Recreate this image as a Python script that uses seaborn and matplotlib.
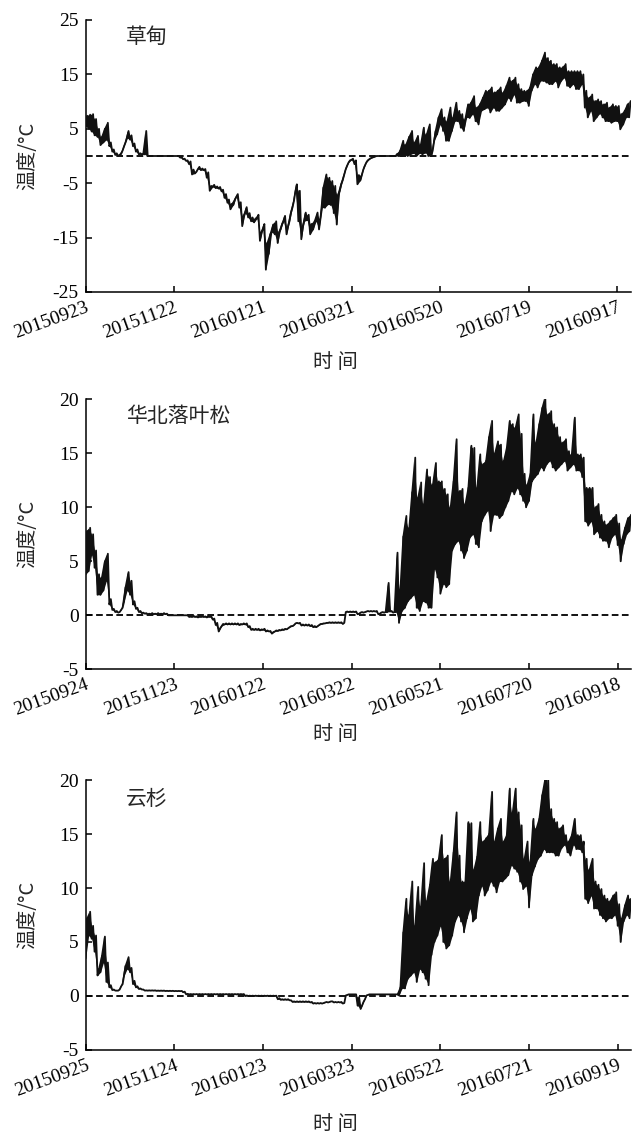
import numpy as np
import pandas as pd
import matplotlib
matplotlib.use('Agg')
import matplotlib.pyplot as plt
import seaborn as sns

# ---------------- data ----------------
panel_names = ['草甸', '华北落叶松', '云杉']
start_dates = ['2015-09-23', '2015-09-24', '2015-09-25']
n_days = 370

xtick_labels_meadow = ['20150923', '20151122', '20160121', '20160321', '20160520', '20160719', '20160917']
xtick_labels_larch = ['20150924', '20151123', '20160122', '20160322', '20160521', '20160720', '20160918']
xtick_labels_spruce = ['20150925', '20151124', '20160123', '20160323', '20160522', '20160721', '20160919']

yticks_meadow = [-25, -15, -5, 5, 15, 25]
yticks_forest = [-5, 0, 5, 10, 15, 20]

# two-day blocks: low reading (first day) and high reading (second day)
meadow_lo = [5.5, 5.0, 4.5, 3.8, 3.5, 2.0, 2.5, 3.0, 1.8, 0.8,
             0.2, 0.0, 0.4, 1.8, 3.3, 3.0, 1.8, 0.8, 0.3, 0.3,
             0.3, 0, 0, 0, 0, 0, 0, 0, 0, 0,
             0, 0, -0.3, -0.6, -0.9, -1.5, -3.4, -3.2, -2.4, -2.6,
             -2.6, -4.0, -6.4, -5.7, -5.9, -6.0, -6.5, -7.7, -8.6, -9.8,
             -9.0, -7.5, -9.5, -12.9, -10.5, -11.3, -12.0, -12.2, -11.5, -15.6,
             -13.5, -20.9, -18.0, -14.0, -14.4, -16.0, -13.5, -12.0, -14.4, -12.0,
             -9.5, -6.5, -12.0, -15.3, -12.0, -11.8, -14.4, -13.5, -12.0, -13.5,
             -9.5, -9.5, -8.9, -9.0, -10.5, -12.6, -6.5, -4.5, -2.5, -1.2,
             -0.7, -1.5, -5.2, -4.5, -2.5, -1.2, -0.6, -0.3, -0.1, 0,
             0, 0, 0, 0, 0, 0.0, 0.0, 0.0, 0.2, 0.0,
             0.3, 0.5, 0.0, 0.5, 0.3, 0.6, 0.0, 0.0, 2.8, 4.0,
             5.8, 4.6, 2.8, 2.8, 4.6, 6.4, 6.4, 5.2, 4.6, 7.1,
             7.0, 7.7, 6.4, 5.8, 8.3, 8.6, 8.9, 8.0, 8.9, 8.3,
             8.3, 8.9, 9.5, 10.7, 10.1, 11.3, 9.8, 9.8, 10.1, 10.1,
             9.2, 12.0, 13.2, 12.6, 13.8, 13.8, 13.5, 13.2, 13.2, 13.8,
             12.6, 13.8, 14.4, 12.9, 12.6, 13.2, 12.3, 12.3, 13.2, 8.9,
             7.1, 8.3, 6.4, 7.1, 7.8, 7.1, 6.4, 6.4, 6.1, 6.4,
             6.4, 4.9, 5.8, 7.1, 7.1]
meadow_hi = [7.4, 7.6, 7.7, 6.8, 5.0, 3.5, 5.0, 6.1, 2.5, 1.2,
             0.5, 0.2, 1.0, 2.5, 4.6, 3.8, 2.3, 1.2, 0.5, 0.4,
             4.6, 0, 0, 0, 0, 0, 0, 0, 0, 0,
             0, 0, -0.2, -0.5, -0.8, -1.0, -2.5, -2.9, -2.0, -2.3,
             -2.4, -3.0, -5.5, -5.3, -5.6, -5.7, -6.2, -7.0, -8.0, -8.8,
             -8.0, -7.0, -8.5, -11.0, -9.4, -10.5, -11.3, -11.5, -10.8, -14.0,
             -12.5, -16.0, -14.4, -12.6, -12.0, -14.0, -12.5, -11.0, -13.0, -10.4,
             -8.3, -5.2, -6.4, -13.0, -10.4, -10.8, -12.5, -12.0, -10.4, -11.5,
             -5.8, -3.4, -4.0, -4.6, -5.5, -7.1, -5.2, -3.5, -1.8, -0.8,
             -0.5, -0.8, -3.5, -3.5, -1.8, -0.8, -0.4, -0.2, 0.0, 0,
             0, 0, 0, 0, 0, 0.4, 1.0, 2.8, 2.1, 3.5,
             4.6, 2.5, 3.7, 2.1, 5.2, 4.0, 5.8, 1.0, 4.6, 7.1,
             8.6, 7.1, 6.4, 8.9, 7.1, 9.8, 8.3, 7.7, 6.7, 9.5,
             9.8, 11.0, 8.9, 9.5, 10.7, 12.0, 12.0, 12.6, 11.7, 12.0,
             12.6, 11.7, 12.9, 14.4, 13.8, 14.4, 13.2, 12.3, 12.0, 12.0,
             12.6, 15.0, 16.3, 16.3, 17.5, 19.0, 18.0, 17.5, 16.9, 16.9,
             16.3, 16.3, 16.9, 15.6, 15.6, 15.6, 15.6, 15.6, 15.0, 12.0,
             10.7, 11.3, 10.1, 10.4, 10.1, 9.5, 9.8, 8.9, 9.5, 9.2,
             9.2, 7.7, 8.3, 9.5, 10.1]

larch_lo = [3.8, 4.1, 5.6, 4.4, 1.9, 1.9, 2.3, 3.2, 1.0, 0.5,
            0.3, 0.25, 0.5, 1.3, 2.3, 1.9, 1.0, 0.6, 0.3, 0.2,
            0.15, 0.1, 0.1, 0.1, 0.1, 0.1, 0.1, 0.1, 0.0, 0.0,
            0, 0, 0, 0, 0, -0.15, -0.15, -0.15, -0.2, -0.15,
            -0.15, -0.2, -0.15, -0.4, -0.9, -1.5, -1.0, -0.85, -0.85, -0.85,
            -0.85, -0.85, -0.9, -0.85, -0.85, -1.1, -1.35, -1.35, -1.35, -1.4,
            -1.35, -1.5, -1.5, -1.7, -1.5, -1.45, -1.4, -1.35, -1.3, -1.1,
            -1.0, -0.75, -0.75, -0.95, -0.95, -0.95, -1.0, -1.1, -1.1, -0.9,
            -0.8, -0.75, -0.7, -0.7, -0.7, -0.7, -0.7, -0.8, 0.3, 0.3,
            0.3, 0.3, 0.1, 0.25, 0.25, 0.35, 0.35, 0.35, 0.35, 0.1,
            0.25, 0.25, 0.3, 0.35, 0.25, 0.3, -0.7, 0.4, 0.7, 1.3,
            1.6, 1.9, 0.7, 0.4, 1.3, 1.2, 0.7, 0.7, 4.3, 3.5,
            2.0, 2.9, 2.6, 2.9, 6.0, 6.6, 6.9, 6.0, 5.3, 6.0,
            7.2, 7.5, 6.6, 6.3, 8.7, 9.3, 9.7, 7.8, 9.3, 9.3,
            9.0, 9.3, 10.0, 10.6, 11.5, 11.2, 11.8, 11.2, 10.6, 10.0,
            10.6, 12.4, 12.8, 13.1, 13.7, 13.4, 14.0, 14.3, 13.7, 13.4,
            13.7, 14.0, 14.3, 13.4, 13.7, 14.0, 13.4, 13.4, 12.8, 8.7,
            8.3, 8.7, 7.5, 7.8, 7.2, 6.9, 6.9, 6.3, 7.2, 7.5,
            6.5, 5.0, 6.6, 7.5, 7.8]
larch_hi = [7.8, 8.1, 7.5, 6.0, 3.8, 3.5, 5.0, 5.7, 1.5, 0.6,
            0.4, 0.3, 0.7, 2.6, 4.0, 3.2, 1.3, 0.7, 0.4, 0.25,
            0.2, 0.15, 0.2, 0.15, 0.2, 0.15, 0.2, 0.15, 0.0, 0.0,
            0, 0, 0, 0, 0, -0.1, -0.05, -0.1, -0.05, -0.1,
            -0.1, -0.05, -0.1, -0.3, -0.7, -1.2, -0.8, -0.75, -0.75, -0.75,
            -0.75, -0.75, -0.8, -0.75, -0.75, -1.0, -1.25, -1.25, -1.25, -1.3,
            -1.25, -1.4, -1.45, -1.55, -1.4, -1.35, -1.3, -1.25, -1.2, -1.0,
            -0.9, -0.7, -0.7, -0.85, -0.85, -0.85, -0.9, -1.0, -1.0, -0.8,
            -0.75, -0.7, -0.65, -0.65, -0.65, -0.65, -0.65, -0.7, 0.35, 0.35,
            0.35, 0.35, 0.15, 0.3, 0.3, 0.4, 0.4, 0.4, 0.4, 0.15,
            0.3, 0.3, 3.0, 0.4, 0.3, 5.8, 2.4, 7.3, 9.2, 8.1,
            11.4, 14.6, 10.9, 12.3, 10.3, 13.5, 12.8, 12.1, 14.1, 12.4,
            12.4, 11.7, 11.2, 10.0, 12.4, 16.3, 11.5, 11.7, 10.3, 11.8,
            15.7, 15.5, 11.8, 14.9, 14.0, 14.3, 16.5, 18.0, 15.0, 16.1,
            15.8, 14.3, 15.5, 18.0, 17.7, 17.4, 18.6, 16.8, 13.1, 12.1,
            13.1, 18.6, 16.0, 17.7, 19.2, 20.2, 18.6, 18.9, 17.7, 17.4,
            16.5, 16.0, 16.3, 15.2, 14.9, 18.3, 14.9, 14.9, 14.6, 11.8,
            11.8, 11.8, 10.0, 10.3, 9.3, 8.7, 8.4, 8.7, 9.0, 9.3,
            8.5, 7.0, 8.1, 9.0, 9.3]

spruce_lo = [3.5, 5.6, 5.3, 4.1, 1.9, 2.2, 3.1, 1.3, 0.8, 0.55,
             0.5, 0.5, 0.9, 1.9, 2.5, 2.2, 1.1, 0.8, 0.65, 0.6,
             0.5, 0.5, 0.5, 0.5, 0.48, 0.48, 0.48, 0.46, 0.46, 0.46,
             0.45, 0.45, 0.45, 0.35, 0.15, 0.15, 0.15, 0.15, 0.15, 0.15,
             0.15, 0.15, 0.15, 0.15, 0.15, 0.15, 0.15, 0.15, 0.15, 0.15,
             0.15, 0.15, 0.15, 0.15, 0.0, 0.0, 0.0, 0.0, 0.0, 0.0,
             0.0, 0.0, 0.0, 0.0, 0.0, -0.3, -0.35, -0.35, -0.35, -0.4,
             -0.55, -0.55, -0.55, -0.55, -0.55, -0.55, -0.6, -0.7, -0.7, -0.7,
             -0.7, -0.6, -0.6, -0.5, -0.6, -0.6, -0.6, -0.7, 0.05, 0.15,
             0.15, 0.15, -0.9, -1.2, -0.55, 0.05, 0.15, 0.15, 0.15, 0.15,
             0.15, 0.15, 0.15, 0.15, 0.15, 0.15, 0.05, 0.7, 0.7, 1.6,
             1.9, 2.2, 1.3, 2.5, 2.2, 1.6, 1.0, 3.8, 5.0, 5.6,
             6.5, 5.0, 4.4, 4.7, 5.6, 6.9, 7.5, 6.9, 5.9, 7.2,
             8.1, 6.9, 7.2, 9.3, 10.2, 9.3, 9.8, 10.6, 10.2, 9.6,
             10.6, 10.6, 10.9, 11.2, 12.1, 11.8, 11.5, 10.6, 9.9, 10.2,
             8.2, 11.2, 12.0, 12.7, 13.0, 13.6, 13.3, 13.3, 13.3, 13.0,
             13.0, 13.7, 14.0, 13.3, 13.0, 14.0, 13.6, 13.6, 13.3, 9.0,
             8.6, 9.3, 8.1, 8.1, 7.5, 7.2, 6.9, 7.2, 7.2, 7.5,
             6.5, 5.0, 6.9, 7.5, 7.2]
spruce_hi = [7.2, 7.8, 6.5, 5.6, 2.5, 3.7, 5.5, 3.1, 1.0, 0.6,
             0.5, 0.6, 1.1, 2.8, 3.6, 2.6, 1.4, 0.9, 0.7, 0.6,
             0.52, 0.52, 0.52, 0.52, 0.5, 0.5, 0.5, 0.48, 0.48, 0.48,
             0.47, 0.47, 0.47, 0.4, 0.2, 0.18, 0.18, 0.18, 0.18, 0.18,
             0.18, 0.18, 0.18, 0.18, 0.18, 0.18, 0.18, 0.18, 0.18, 0.18,
             0.18, 0.18, 0.18, 0.18, 0.05, 0.03, 0.03, 0.03, 0.03, 0.03,
             0.03, 0.03, 0.03, 0.03, 0.03, -0.2, -0.3, -0.3, -0.3, -0.4,
             -0.5, -0.5, -0.5, -0.5, -0.5, -0.5, -0.55, -0.65, -0.65, -0.65,
             -0.65, -0.55, -0.55, -0.5, -0.55, -0.55, -0.55, -0.65, 0.1, 0.15,
             0.15, 0.15, -0.1, -0.9, -0.3, 0.1, 0.15, 0.15, 0.15, 0.15,
             0.15, 0.15, 0.15, 0.15, 0.15, 0.15, 0.8, 5.9, 9.0, 7.5,
             10.6, 6.5, 10.1, 8.3, 12.3, 8.8, 10.3, 12.7, 12.4, 12.7,
             14.9, 12.7, 13.0, 10.6, 13.3, 17.0, 13.0, 10.6, 10.6, 16.1,
             16.0, 11.7, 12.9, 16.1, 14.3, 14.6, 15.0, 18.9, 14.3, 15.5,
             16.4, 14.3, 14.9, 19.2, 17.0, 19.2, 17.0, 15.8, 12.7, 14.3,
             12.4, 16.4, 15.5, 16.4, 18.6, 20.1, 20.1, 17.3, 16.4, 16.1,
             15.5, 15.8, 14.9, 14.3, 14.9, 16.4, 14.9, 14.9, 14.3, 12.7,
             11.7, 12.7, 10.6, 10.3, 9.9, 9.3, 9.0, 8.8, 9.3, 9.6,
             8.5, 7.2, 8.4, 9.3, 9.0]

# ---------------- style ----------------
sns.set_style('ticks')
plt.rcParams['font.family'] = ['Liberation Serif', 'Noto Sans CJK SC']
plt.rcParams['axes.unicode_minus'] = False
CJK = ['Noto Sans CJK SC', 'DejaVu Sans']

W, H = 633, 1136
fig = plt.figure(figsize=(W / 100, H / 100), dpi=100)
fig.patch.set_facecolor('white')

# axes boxes in pixels: left, top, right, bottom
boxes = [(85.7, 20.0, 630.6, 292.0),
         (85.7, 399.3, 631.0, 669.3),
         (85.7, 780.0, 631.0, 1050.0)]
xlabel_y = [363, 734, 1124]

series = [(meadow_lo, meadow_hi), (larch_lo, larch_hi), (spruce_lo, spruce_hi)]
xtick_sets = [xtick_labels_meadow, xtick_labels_larch, xtick_labels_spruce]
ytick_sets = [yticks_meadow, yticks_forest, yticks_forest]
name_pos = [0.937, 0.938, 0.931]

for i in range(3):
    l, t, r, b = boxes[i]
    ax = fig.add_axes([l / W, 1 - b / H, (r - l) / W, (b - t) / H])
    lo, hi = series[i]
    assert len(lo) == len(hi) == n_days // 2
    temps = np.column_stack([lo, hi]).ravel()
    dates = pd.date_range(start_dates[i], periods=n_days, freq='D')
    df = pd.DataFrame({'date': dates, 'temp': temps})

    ax.axhline(0, color='black', lw=1.3, ls=(0, (3.7, 1.9)), zorder=1)
    # daily range band (low..high of each two-day block)
    ax.fill_between(dates[0::2], lo, hi, color='#111111', lw=0, zorder=2)
    sns.lineplot(data=df, x='date', y='temp', ax=ax, color='#111111',
                 lw=1.3, estimator=None, sort=False, zorder=3)

    yt = ytick_sets[i]
    ax.set_ylim(yt[0], yt[-1])
    ax.set_yticks(yt)
    ax.set_yticklabels([str(v) for v in yt])
    ax.set_xlim(dates[0], dates[0] + pd.Timedelta(days=369))
    xt = pd.to_datetime(xtick_sets[i], format='%Y%m%d')
    ax.set_xticks(xt)
    ax.set_xticklabels(xtick_sets[i], rotation=20, ha='right', va='top',
                       rotation_mode='anchor')
    ax.set_xlabel('')
    ax.set_ylabel('')
    for side in ['top', 'right']:
        ax.spines[side].set_visible(False)
    for side in ['left', 'bottom']:
        ax.spines[side].set_linewidth(1.1)
        ax.spines[side].set_color('black')
    ax.tick_params(axis='both', direction='in', length=4.5, width=1.1,
                   labelsize=14, colors='black')
    ax.tick_params(axis='y', pad=5)
    ax.tick_params(axis='x', pad=5)

    ax.text(0.074, name_pos[i], panel_names[i], transform=ax.transAxes,
            fontsize=15, family=CJK, ha='left', va='center')

    fig.text(28 / W, 1 - ((t + b) / 2) / H, '温度/°C', rotation=90,
             fontsize=14.5, family=CJK, ha='center', va='center')
    fig.text(335 / W, 1 - xlabel_y[i] / H, '时 间', fontsize=14.5,
             family=CJK, ha='center', va='center')

fig.savefig('out.png', dpi=100, facecolor='white')
